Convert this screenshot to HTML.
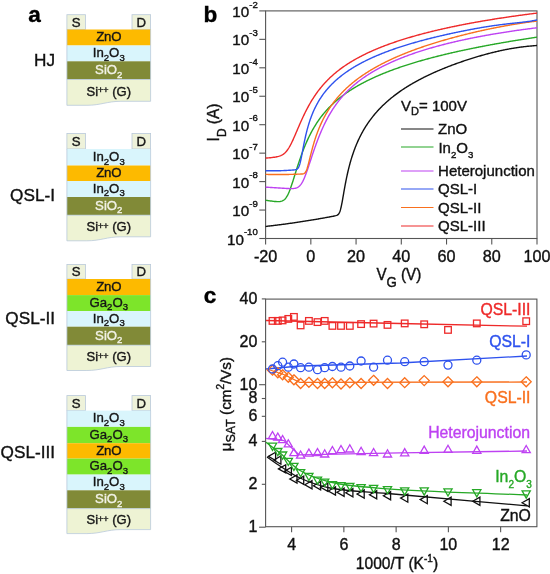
<!DOCTYPE html>
<html><head><meta charset="utf-8"><style>
html,body{margin:0;padding:0;background:#fff;}
svg{display:block;will-change:transform;filter:blur(0.35px);}
text{font-family:"Liberation Sans", sans-serif;}
.tk{stroke:currentColor;stroke-width:0.25px;}
</style></head><body>
<svg width="550" height="574" viewBox="0 0 550 574">
<rect width="550" height="574" fill="#fff"/>
<rect x="66.9" y="14.7" width="18.6" height="14.8" fill="#EEF2DA" stroke="#B9C9DA" stroke-width="0.8"/>
<rect x="132.0" y="14.7" width="18.6" height="14.8" fill="#EEF2DA" stroke="#B9C9DA" stroke-width="0.8"/>
<text x="76.2" y="26.5" font-size="13.2" fill="#161616" text-anchor="middle" stroke="#161616" stroke-width="0.38">S</text>
<text x="141.29999999999998" y="26.5" font-size="13.2" fill="#161616" text-anchor="middle" stroke="#161616" stroke-width="0.38">D</text>
<rect x="66.9" y="29.5" width="83.69999999999999" height="16.0" fill="#FDBA00"/>
<text x="108.75" y="41.2" font-size="13.2" fill="#161616" text-anchor="middle" letter-spacing="-0.15" stroke="#161616" stroke-width="0.38">ZnO</text>
<rect x="66.9" y="45.5" width="83.69999999999999" height="15.799999999999997" fill="#D9F5FC"/>
<text x="108.75" y="57.1" font-size="13.2" fill="#161616" text-anchor="middle" stroke="#161616" stroke-width="0.38">In<tspan font-size="9.5" dy="3.6">2</tspan><tspan dy="-3.6">O</tspan><tspan font-size="9.5" dy="3.6">3</tspan></text>
<rect x="66.9" y="61.3" width="83.69999999999999" height="18.200000000000003" fill="#818A37"/>
<text x="108.75" y="74.10000000000001" font-size="13.2" fill="#F2F2E6" text-anchor="middle" stroke="#F2F2E6" stroke-width="0.38">SiO<tspan font-size="9.5" dy="3.6">2</tspan></text>
<path d="M66.9,79.5 L150.6,79.5 L150.6,101.3 L120.9,101.3 C106.9,101.3 100.9,105.3 86.9,105.3 L66.9,105.3 Z" fill="#EEF3D4" stroke="#B9C9DA" stroke-width="0.8"/>
<text x="108.75" y="95.50000000000001" font-size="13" fill="#161616" text-anchor="middle" stroke="#161616" stroke-width="0.38">Si<tspan font-size="9" dy="-2.2">++</tspan><tspan dy="2.2"> (G)</tspan></text>
<line x1="66.9" y1="29.5" x2="66.9" y2="79.5" stroke="#B9C9DA" stroke-width="0.8"/>
<line x1="150.6" y1="29.5" x2="150.6" y2="79.5" stroke="#B9C9DA" stroke-width="0.8"/>
<text x="55.0" y="66.0" font-size="17.2" fill="#111" text-anchor="end" stroke="#111" stroke-width="0.38">HJ</text>
<rect x="66.9" y="133.5" width="18.6" height="15.5" fill="#EEF2DA" stroke="#B9C9DA" stroke-width="0.8"/>
<rect x="132.0" y="133.5" width="18.6" height="15.5" fill="#EEF2DA" stroke="#B9C9DA" stroke-width="0.8"/>
<text x="76.2" y="146.0" font-size="13.2" fill="#161616" text-anchor="middle" stroke="#161616" stroke-width="0.38">S</text>
<text x="141.29999999999998" y="146.0" font-size="13.2" fill="#161616" text-anchor="middle" stroke="#161616" stroke-width="0.38">D</text>
<rect x="66.9" y="149" width="83.69999999999999" height="16.5" fill="#D9F5FC"/>
<text x="108.75" y="160.95" font-size="13.2" fill="#161616" text-anchor="middle" stroke="#161616" stroke-width="0.38">In<tspan font-size="9.5" dy="3.6">2</tspan><tspan dy="-3.6">O</tspan><tspan font-size="9.5" dy="3.6">3</tspan></text>
<rect x="66.9" y="165.5" width="83.69999999999999" height="15.5" fill="#FDBA00"/>
<text x="108.75" y="176.95" font-size="13.2" fill="#161616" text-anchor="middle" letter-spacing="-0.15" stroke="#161616" stroke-width="0.38">ZnO</text>
<rect x="66.9" y="181.0" width="83.69999999999999" height="16.0" fill="#D9F5FC"/>
<text x="108.75" y="192.7" font-size="13.2" fill="#161616" text-anchor="middle" stroke="#161616" stroke-width="0.38">In<tspan font-size="9.5" dy="3.6">2</tspan><tspan dy="-3.6">O</tspan><tspan font-size="9.5" dy="3.6">3</tspan></text>
<rect x="66.9" y="197.0" width="83.69999999999999" height="18.19999999999999" fill="#818A37"/>
<text x="108.75" y="209.79999999999998" font-size="13.2" fill="#F2F2E6" text-anchor="middle" stroke="#F2F2E6" stroke-width="0.38">SiO<tspan font-size="9.5" dy="3.6">2</tspan></text>
<path d="M66.9,215.2 L150.6,215.2 L150.6,236.79999999999998 L120.9,236.79999999999998 C106.9,236.79999999999998 100.9,240.79999999999998 86.9,240.79999999999998 L66.9,240.79999999999998 Z" fill="#EEF3D4" stroke="#B9C9DA" stroke-width="0.8"/>
<text x="108.75" y="231.1" font-size="13" fill="#161616" text-anchor="middle" stroke="#161616" stroke-width="0.38">Si<tspan font-size="9" dy="-2.2">++</tspan><tspan dy="2.2"> (G)</tspan></text>
<line x1="66.9" y1="149" x2="66.9" y2="215.2" stroke="#B9C9DA" stroke-width="0.8"/>
<line x1="150.6" y1="149" x2="150.6" y2="215.2" stroke="#B9C9DA" stroke-width="0.8"/>
<text x="55.0" y="201.20000000000002" font-size="17.2" fill="#111" text-anchor="end" stroke="#111" stroke-width="0.38">QSL-I</text>
<rect x="66.9" y="264.4" width="18.6" height="14.600000000000023" fill="#EEF2DA" stroke="#B9C9DA" stroke-width="0.8"/>
<rect x="132.0" y="264.4" width="18.6" height="14.600000000000023" fill="#EEF2DA" stroke="#B9C9DA" stroke-width="0.8"/>
<text x="76.2" y="276.0" font-size="13.2" fill="#161616" text-anchor="middle" stroke="#161616" stroke-width="0.38">S</text>
<text x="141.29999999999998" y="276.0" font-size="13.2" fill="#161616" text-anchor="middle" stroke="#161616" stroke-width="0.38">D</text>
<rect x="66.9" y="279" width="83.69999999999999" height="16.100000000000023" fill="#FDBA00"/>
<text x="108.75" y="290.75" font-size="13.2" fill="#161616" text-anchor="middle" letter-spacing="-0.15" stroke="#161616" stroke-width="0.38">ZnO</text>
<rect x="66.9" y="295.1" width="83.69999999999999" height="16.0" fill="#7DE52A"/>
<text x="108.75" y="306.8" font-size="13.2" fill="#161616" text-anchor="middle" stroke="#161616" stroke-width="0.38">Ga<tspan font-size="9.5" dy="3.6">2</tspan><tspan dy="-3.6">O</tspan><tspan font-size="9.5" dy="3.6">3</tspan></text>
<rect x="66.9" y="311.1" width="83.69999999999999" height="15.600000000000023" fill="#D9F5FC"/>
<text x="108.75" y="322.6" font-size="13.2" fill="#161616" text-anchor="middle" stroke="#161616" stroke-width="0.38">In<tspan font-size="9.5" dy="3.6">2</tspan><tspan dy="-3.6">O</tspan><tspan font-size="9.5" dy="3.6">3</tspan></text>
<rect x="66.9" y="326.70000000000005" width="83.69999999999999" height="18.5" fill="#818A37"/>
<text x="108.75" y="339.65000000000003" font-size="13.2" fill="#F2F2E6" text-anchor="middle" stroke="#F2F2E6" stroke-width="0.38">SiO<tspan font-size="9.5" dy="3.6">2</tspan></text>
<path d="M66.9,345.20000000000005 L150.6,345.20000000000005 L150.6,366.50000000000006 L120.9,366.50000000000006 C106.9,366.50000000000006 100.9,370.50000000000006 86.9,370.50000000000006 L66.9,370.50000000000006 Z" fill="#EEF3D4" stroke="#B9C9DA" stroke-width="0.8"/>
<text x="108.75" y="360.95" font-size="13" fill="#161616" text-anchor="middle" stroke="#161616" stroke-width="0.38">Si<tspan font-size="9" dy="-2.2">++</tspan><tspan dy="2.2"> (G)</tspan></text>
<line x1="66.9" y1="279" x2="66.9" y2="345.20000000000005" stroke="#B9C9DA" stroke-width="0.8"/>
<line x1="150.6" y1="279" x2="150.6" y2="345.20000000000005" stroke="#B9C9DA" stroke-width="0.8"/>
<text x="55.0" y="323.90000000000003" font-size="17.2" fill="#111" text-anchor="end" stroke="#111" stroke-width="0.38">QSL-II</text>
<rect x="66.9" y="395.6" width="18.6" height="15.0" fill="#EEF2DA" stroke="#B9C9DA" stroke-width="0.8"/>
<rect x="132.0" y="395.6" width="18.6" height="15.0" fill="#EEF2DA" stroke="#B9C9DA" stroke-width="0.8"/>
<text x="76.2" y="407.6" font-size="13.2" fill="#161616" text-anchor="middle" stroke="#161616" stroke-width="0.38">S</text>
<text x="141.29999999999998" y="407.6" font-size="13.2" fill="#161616" text-anchor="middle" stroke="#161616" stroke-width="0.38">D</text>
<rect x="66.9" y="410.6" width="83.69999999999999" height="16.30000000000001" fill="#D9F5FC"/>
<text x="108.75" y="422.45" font-size="13.2" fill="#161616" text-anchor="middle" stroke="#161616" stroke-width="0.38">In<tspan font-size="9.5" dy="3.6">2</tspan><tspan dy="-3.6">O</tspan><tspan font-size="9.5" dy="3.6">3</tspan></text>
<rect x="66.9" y="426.90000000000003" width="83.69999999999999" height="16.30000000000001" fill="#7DE52A"/>
<text x="108.75" y="438.75000000000006" font-size="13.2" fill="#161616" text-anchor="middle" stroke="#161616" stroke-width="0.38">Ga<tspan font-size="9.5" dy="3.6">2</tspan><tspan dy="-3.6">O</tspan><tspan font-size="9.5" dy="3.6">3</tspan></text>
<rect x="66.9" y="443.20000000000005" width="83.69999999999999" height="15.399999999999977" fill="#FDBA00"/>
<text x="108.75" y="454.6" font-size="13.2" fill="#161616" text-anchor="middle" letter-spacing="-0.15" stroke="#161616" stroke-width="0.38">ZnO</text>
<rect x="66.9" y="458.6" width="83.69999999999999" height="16.0" fill="#7DE52A"/>
<text x="108.75" y="470.3" font-size="13.2" fill="#161616" text-anchor="middle" stroke="#161616" stroke-width="0.38">Ga<tspan font-size="9.5" dy="3.6">2</tspan><tspan dy="-3.6">O</tspan><tspan font-size="9.5" dy="3.6">3</tspan></text>
<rect x="66.9" y="474.6" width="83.69999999999999" height="15.699999999999989" fill="#D9F5FC"/>
<text x="108.75" y="486.15000000000003" font-size="13.2" fill="#161616" text-anchor="middle" stroke="#161616" stroke-width="0.38">In<tspan font-size="9.5" dy="3.6">2</tspan><tspan dy="-3.6">O</tspan><tspan font-size="9.5" dy="3.6">3</tspan></text>
<rect x="66.9" y="490.3" width="83.69999999999999" height="18.30000000000001" fill="#818A37"/>
<text x="108.75" y="503.15000000000003" font-size="13.2" fill="#F2F2E6" text-anchor="middle" stroke="#F2F2E6" stroke-width="0.38">SiO<tspan font-size="9.5" dy="3.6">2</tspan></text>
<path d="M66.9,508.6 L150.6,508.6 L150.6,529.6 L120.9,529.6 C106.9,529.6 100.9,533.6 86.9,533.6 L66.9,533.6 Z" fill="#EEF3D4" stroke="#B9C9DA" stroke-width="0.8"/>
<text x="108.75" y="524.2" font-size="13" fill="#161616" text-anchor="middle" stroke="#161616" stroke-width="0.38">Si<tspan font-size="9" dy="-2.2">++</tspan><tspan dy="2.2"> (G)</tspan></text>
<line x1="66.9" y1="410.6" x2="66.9" y2="508.6" stroke="#B9C9DA" stroke-width="0.8"/>
<line x1="150.6" y1="410.6" x2="150.6" y2="508.6" stroke="#B9C9DA" stroke-width="0.8"/>
<text x="55.0" y="458.40000000000003" font-size="17.2" fill="#111" text-anchor="end" stroke="#111" stroke-width="0.38">QSL-III</text>
<text x="28.3" y="22" font-size="22.5" font-weight="bold" fill="#000" stroke="#000" stroke-width="0.38">a</text>
<text x="203.6" y="21.9" font-size="22.5" font-weight="bold" fill="#000" stroke="#000" stroke-width="0.38">b</text>
<text x="203.8" y="302.8" font-size="22.5" font-weight="bold" fill="#000" stroke="#000" stroke-width="0.38">c</text>
<rect x="265.6" y="10.9" width="271.4" height="227.6" fill="none" stroke="#555" stroke-width="1.1"/>
<line x1="259.3" y1="10.9" x2="265.6" y2="10.9" stroke="#555" stroke-width="1.1"/>
<text x="257.8" y="16.9" font-size="15.2" fill="#111" text-anchor="end" stroke="#111" stroke-width="0.38">10<tspan font-size="9.6" dy="-9.3">-2</tspan></text>
<line x1="259.3" y1="39.35" x2="265.6" y2="39.35" stroke="#555" stroke-width="1.1"/>
<text x="257.8" y="45.35" font-size="15.2" fill="#111" text-anchor="end" stroke="#111" stroke-width="0.38">10<tspan font-size="9.6" dy="-9.3">-3</tspan></text>
<line x1="259.3" y1="67.8" x2="265.6" y2="67.8" stroke="#555" stroke-width="1.1"/>
<text x="257.8" y="73.8" font-size="15.2" fill="#111" text-anchor="end" stroke="#111" stroke-width="0.38">10<tspan font-size="9.6" dy="-9.3">-4</tspan></text>
<line x1="259.3" y1="96.25" x2="265.6" y2="96.25" stroke="#555" stroke-width="1.1"/>
<text x="257.8" y="102.25" font-size="15.2" fill="#111" text-anchor="end" stroke="#111" stroke-width="0.38">10<tspan font-size="9.6" dy="-9.3">-5</tspan></text>
<line x1="259.3" y1="124.7" x2="265.6" y2="124.7" stroke="#555" stroke-width="1.1"/>
<text x="257.8" y="130.7" font-size="15.2" fill="#111" text-anchor="end" stroke="#111" stroke-width="0.38">10<tspan font-size="9.6" dy="-9.3">-6</tspan></text>
<line x1="259.3" y1="153.15" x2="265.6" y2="153.15" stroke="#555" stroke-width="1.1"/>
<text x="257.8" y="159.15" font-size="15.2" fill="#111" text-anchor="end" stroke="#111" stroke-width="0.38">10<tspan font-size="9.6" dy="-9.3">-7</tspan></text>
<line x1="259.3" y1="181.6" x2="265.6" y2="181.6" stroke="#555" stroke-width="1.1"/>
<text x="257.8" y="187.6" font-size="15.2" fill="#111" text-anchor="end" stroke="#111" stroke-width="0.38">10<tspan font-size="9.6" dy="-9.3">-8</tspan></text>
<line x1="259.3" y1="210.05" x2="265.6" y2="210.05" stroke="#555" stroke-width="1.1"/>
<text x="257.8" y="216.05" font-size="15.2" fill="#111" text-anchor="end" stroke="#111" stroke-width="0.38">10<tspan font-size="9.6" dy="-9.3">-9</tspan></text>
<line x1="259.3" y1="238.5" x2="265.6" y2="238.5" stroke="#555" stroke-width="1.1"/>
<text x="257.8" y="244.5" font-size="15.2" fill="#111" text-anchor="end" stroke="#111" stroke-width="0.38">10<tspan font-size="9.6" dy="-9.3">-10</tspan></text>
<line x1="265.6" y1="238.5" x2="265.6" y2="244.5" stroke="#555" stroke-width="1.1"/>
<text x="265.6" y="261.6" font-size="16.2" fill="#111" text-anchor="middle" stroke="#111" stroke-width="0.38">-20</text>
<line x1="310.834" y1="238.5" x2="310.834" y2="244.5" stroke="#555" stroke-width="1.1"/>
<text x="310.834" y="261.6" font-size="16.2" fill="#111" text-anchor="middle" stroke="#111" stroke-width="0.38">0</text>
<line x1="356.068" y1="238.5" x2="356.068" y2="244.5" stroke="#555" stroke-width="1.1"/>
<text x="356.068" y="261.6" font-size="16.2" fill="#111" text-anchor="middle" stroke="#111" stroke-width="0.38">20</text>
<line x1="401.302" y1="238.5" x2="401.302" y2="244.5" stroke="#555" stroke-width="1.1"/>
<text x="401.302" y="261.6" font-size="16.2" fill="#111" text-anchor="middle" stroke="#111" stroke-width="0.38">40</text>
<line x1="446.536" y1="238.5" x2="446.536" y2="244.5" stroke="#555" stroke-width="1.1"/>
<text x="446.536" y="261.6" font-size="16.2" fill="#111" text-anchor="middle" stroke="#111" stroke-width="0.38">60</text>
<line x1="491.77" y1="238.5" x2="491.77" y2="244.5" stroke="#555" stroke-width="1.1"/>
<text x="491.77" y="261.6" font-size="16.2" fill="#111" text-anchor="middle" stroke="#111" stroke-width="0.38">80</text>
<line x1="537.004" y1="238.5" x2="537.004" y2="244.5" stroke="#555" stroke-width="1.1"/>
<text x="537.004" y="261.6" font-size="16.2" fill="#111" text-anchor="middle" stroke="#111" stroke-width="0.38">100</text>
<text transform="translate(376.4,279.6) scale(0.98,1.12)" font-size="15.5" fill="#111" stroke="#111" stroke-width="0.38">V<tspan font-size="13.5" dy="6.2">G</tspan><tspan dy="-6.2"> (V)</tspan></text>
<text transform="translate(218.8,141.4) rotate(-90) scale(1,1.12)" font-size="15.5" fill="#111" stroke="#111" stroke-width="0.38">I<tspan font-size="11.8" dy="6.0">D</tspan><tspan dy="-6.0"> (A)</tspan></text>
<defs><clipPath id="cb"><rect x="265.6" y="10.9" width="271.4" height="227.6"/></clipPath></defs>
<g clip-path="url(#cb)" fill="none" stroke-width="1.4">
<path d="M264.92,226.52 L265.72,226.43 L266.52,226.34 L267.31,226.25 L268.11,226.16 L268.90,226.07 L269.70,225.97 L270.49,225.88 L271.29,225.79 L272.09,225.69 L272.88,225.60 L273.68,225.50 L274.47,225.40 L275.27,225.31 L276.06,225.21 L276.86,225.11 L277.65,225.01 L278.45,224.91 L279.25,224.81 L280.04,224.71 L280.84,224.60 L281.63,224.50 L282.43,224.40 L283.22,224.29 L284.02,224.19 L284.82,224.08 L285.61,223.97 L286.41,223.86 L287.20,223.76 L288.00,223.65 L288.79,223.54 L289.59,223.42 L290.39,223.31 L291.18,223.20 L291.98,223.09 L292.77,222.97 L293.57,222.86 L294.36,222.74 L295.16,222.63 L295.95,222.51 L296.75,222.39 L297.55,222.28 L298.34,222.16 L299.14,222.04 L299.93,221.92 L300.73,221.80 L301.52,221.67 L302.32,221.55 L303.12,221.43 L303.91,221.30 L304.71,221.18 L305.50,221.05 L306.30,220.93 L307.09,220.80 L307.89,220.67 L308.69,220.54 L309.48,220.41 L310.28,220.28 L311.07,220.15 L311.87,220.02 L312.66,219.89 L313.46,219.76 L314.25,219.62 L315.05,219.49 L315.85,219.35 L316.64,219.22 L317.44,219.08 L318.23,218.94 L319.03,218.80 L319.82,218.67 L320.62,218.53 L321.42,218.39 L322.21,218.24 L323.01,218.10 L323.80,217.96 L324.60,217.82 L325.39,217.67 L326.19,217.53 L326.99,217.38 L327.78,217.24 L328.58,217.09 L329.37,216.94 L330.17,216.79 L330.96,216.64 L331.76,216.49 L332.55,216.34 L333.35,216.19 L334.15,216.03 L334.94,215.87 L335.74,215.68 L336.53,215.45 L337.33,215.12 L338.01,214.66 L338.58,214.07 L339.03,213.41 L339.49,212.52 L339.83,211.68 L340.17,210.68 L340.40,209.92 L340.62,209.09 L340.85,208.19 L341.08,207.22 L341.31,206.19 L341.53,205.10 L341.76,203.95 L341.99,202.77 L342.22,201.54 L342.44,200.29 L342.67,199.01 L342.90,197.72 L343.13,196.41 L343.35,195.10 L343.58,193.79 L343.81,192.49 L344.03,191.19 L344.26,189.90 L344.49,188.63 L344.72,187.37 L344.94,186.12 L345.17,184.90 L345.40,183.69 L345.63,182.50 L345.85,181.33 L346.08,180.19 L346.31,179.06 L346.54,177.95 L346.76,176.87 L346.99,175.80 L347.22,174.76 L347.44,173.73 L347.67,172.72 L347.90,171.74 L348.13,170.77 L348.35,169.82 L348.58,168.88 L348.81,167.96 L349.04,167.06 L349.26,166.18 L349.49,165.31 L349.72,164.46 L349.95,163.62 L350.17,162.80 L350.40,161.99 L350.63,161.19 L350.85,160.41 L351.08,159.64 L351.31,158.89 L351.54,158.14 L351.88,157.05 L352.22,155.98 L352.56,154.93 L352.90,153.91 L353.24,152.91 L353.58,151.94 L353.92,150.98 L354.26,150.05 L354.61,149.13 L354.95,148.23 L355.29,147.35 L355.63,146.49 L355.97,145.64 L356.31,144.81 L356.65,144.00 L356.99,143.20 L357.33,142.41 L357.67,141.64 L358.02,140.88 L358.36,140.13 L358.70,139.40 L359.04,138.68 L359.38,137.97 L359.72,137.27 L360.18,136.36 L360.63,135.46 L361.08,134.59 L361.54,133.73 L361.99,132.88 L362.45,132.06 L362.90,131.24 L363.36,130.45 L363.81,129.67 L364.27,128.90 L364.72,128.14 L365.18,127.40 L365.63,126.67 L366.09,125.96 L366.54,125.25 L367.00,124.56 L367.45,123.87 L367.90,123.20 L368.36,122.54 L368.81,121.89 L369.27,121.25 L369.72,120.61 L370.29,119.84 L370.86,119.07 L371.43,118.32 L372.00,117.58 L372.56,116.86 L373.13,116.15 L373.70,115.44 L374.27,114.75 L374.84,114.07 L375.41,113.41 L375.97,112.75 L376.54,112.10 L377.11,111.46 L377.68,110.83 L378.25,110.21 L378.82,109.60 L379.38,109.00 L379.95,108.40 L380.52,107.82 L381.09,107.24 L381.66,106.67 L382.23,106.10 L382.79,105.55 L383.36,105.00 L383.93,104.46 L384.50,103.92 L385.07,103.40 L385.75,102.77 L386.43,102.15 L387.11,101.55 L387.80,100.95 L388.48,100.36 L389.16,99.77 L389.84,99.20 L390.52,98.63 L391.21,98.07 L391.89,97.52 L392.57,96.97 L393.25,96.44 L393.93,95.90 L394.62,95.38 L395.30,94.86 L395.98,94.35 L396.66,93.84 L397.34,93.34 L398.03,92.84 L398.71,92.36 L399.39,91.87 L400.07,91.39 L400.75,90.92 L401.44,90.45 L402.12,89.99 L402.80,89.53 L403.48,89.08 L404.16,88.63 L404.85,88.19 L405.53,87.75 L406.21,87.32 L406.89,86.89 L407.57,86.46 L408.26,86.04 L408.94,85.62 L409.62,85.21 L410.30,84.80 L410.98,84.39 L411.67,83.99 L412.35,83.59 L413.03,83.20 L413.71,82.81 L414.39,82.42 L415.08,82.04 L415.76,81.66 L416.44,81.28 L417.12,80.91 L417.80,80.54 L418.60,80.11 L419.39,79.69 L420.19,79.27 L420.99,78.85 L421.78,78.44 L422.58,78.03 L423.37,77.63 L424.17,77.23 L424.96,76.84 L425.76,76.44 L426.56,76.05 L427.35,75.67 L428.15,75.29 L428.94,74.91 L429.74,74.53 L430.53,74.16 L431.33,73.79 L432.12,73.43 L432.92,73.07 L433.72,72.71 L434.51,72.35 L435.31,72.00 L436.10,71.65 L436.90,71.30 L437.69,70.96 L438.49,70.61 L439.29,70.28 L440.08,69.94 L440.88,69.61 L441.67,69.28 L442.47,68.95 L443.26,68.62 L444.06,68.30 L444.86,67.98 L445.65,67.66 L446.45,67.34 L447.24,67.03 L448.04,66.72 L448.83,66.41 L449.63,66.10 L450.42,65.80 L451.22,65.50 L452.02,65.20 L452.81,64.90 L453.61,64.60 L454.40,64.31 L455.20,64.02 L455.99,63.73 L456.79,63.44 L457.59,63.16 L458.38,62.87 L459.18,62.59 L459.97,62.31 L460.77,62.04 L461.56,61.76 L462.36,61.49 L463.16,61.22 L463.95,60.95 L464.75,60.68 L465.54,60.42 L466.34,60.15 L467.13,59.89 L467.93,59.63 L468.72,59.38 L469.52,59.12 L470.32,58.87 L471.11,58.61 L471.91,58.36 L472.70,58.11 L473.50,57.87 L474.29,57.62 L475.09,57.38 L475.89,57.14 L476.68,56.90 L477.48,56.66 L478.27,56.43 L479.07,56.20 L479.86,55.96 L480.66,55.74 L481.46,55.51 L482.25,55.28 L483.05,55.06 L483.84,54.84 L484.64,54.62 L485.43,54.40 L486.23,54.18 L487.02,53.97 L487.82,53.76 L488.62,53.55 L489.41,53.34 L490.21,53.14 L491.00,52.93 L491.80,52.73 L492.59,52.53 L493.39,52.34 L494.19,52.14 L494.98,51.95 L495.78,51.76 L496.57,51.58 L497.37,51.39 L498.16,51.21 L498.96,51.03 L499.76,50.85 L500.55,50.68 L501.35,50.50 L502.14,50.33 L502.94,50.17 L503.73,50.00 L504.53,49.84 L505.32,49.68 L506.12,49.52 L506.92,49.37 L507.71,49.22 L508.51,49.07 L509.30,48.92 L510.10,48.78 L510.89,48.64 L511.69,48.50 L512.49,48.36 L513.28,48.23 L514.08,48.10 L514.87,47.97 L515.67,47.85 L516.46,47.73 L517.26,47.61 L518.06,47.49 L518.85,47.38 L519.65,47.27 L520.44,47.16 L521.24,47.06 L522.03,46.96 L522.83,46.86 L523.62,46.76 L524.42,46.67 L525.22,46.57 L526.01,46.48 L526.81,46.40 L527.60,46.31 L528.40,46.23 L529.19,46.15 L529.99,46.08 L530.79,46.00 L531.58,45.93 L532.38,45.86 L533.17,45.79 L533.97,45.73 L534.76,45.66 L535.56,45.60 L536.36,45.54 L537.15,45.48 L537.61,45.45" stroke="#111" stroke-linejoin="round"/>
<path d="M264.92,200.12 L265.72,200.24 L266.52,200.37 L267.31,200.49 L268.11,200.61 L268.90,200.73 L269.70,200.84 L270.49,200.95 L271.29,201.06 L272.09,201.16 L272.88,201.26 L273.68,201.35 L274.47,201.43 L275.27,201.50 L276.06,201.56 L276.86,201.61 L277.65,201.63 L278.45,201.64 L279.25,201.60 L280.04,201.53 L280.84,201.39 L281.63,201.19 L282.43,200.90 L283.22,200.49 L283.91,200.03 L284.59,199.46 L285.16,198.89 L285.73,198.21 L286.29,197.43 L286.75,196.73 L287.20,195.95 L287.66,195.10 L288.11,194.18 L288.45,193.45 L288.79,192.67 L289.14,191.86 L289.48,191.02 L289.82,190.14 L290.16,189.23 L290.50,188.30 L290.84,187.34 L291.18,186.35 L291.52,185.35 L291.86,184.32 L292.20,183.28 L292.54,182.23 L292.89,181.16 L293.23,180.09 L293.57,179.00 L293.91,177.92 L294.25,176.82 L294.59,175.73 L294.93,174.64 L295.27,173.54 L295.61,172.45 L295.95,171.37 L296.30,170.28 L296.64,169.20 L296.98,168.13 L297.32,167.07 L297.66,166.01 L298.00,164.96 L298.34,163.92 L298.68,162.89 L299.02,161.86 L299.36,160.85 L299.71,159.85 L300.05,158.86 L300.39,157.88 L300.73,156.91 L301.07,155.95 L301.41,155.00 L301.75,154.06 L302.09,153.14 L302.43,152.22 L302.77,151.32 L303.12,150.43 L303.46,149.55 L303.80,148.68 L304.14,147.82 L304.48,146.98 L304.82,146.14 L305.16,145.32 L305.50,144.51 L305.84,143.71 L306.18,142.92 L306.53,142.14 L306.87,141.37 L307.21,140.61 L307.55,139.86 L307.89,139.12 L308.23,138.39 L308.57,137.67 L308.91,136.96 L309.25,136.27 L309.71,135.35 L310.16,134.45 L310.62,133.56 L311.07,132.69 L311.53,131.84 L311.98,131.00 L312.44,130.18 L312.89,129.37 L313.35,128.57 L313.80,127.79 L314.25,127.02 L314.71,126.27 L315.16,125.53 L315.62,124.80 L316.07,124.08 L316.53,123.37 L316.98,122.68 L317.44,121.99 L317.89,121.32 L318.35,120.66 L318.80,120.01 L319.26,119.37 L319.71,118.74 L320.28,117.96 L320.85,117.20 L321.42,116.45 L321.98,115.72 L322.55,115.00 L323.12,114.29 L323.69,113.60 L324.26,112.92 L324.83,112.25 L325.39,111.59 L325.96,110.94 L326.53,110.30 L327.10,109.68 L327.67,109.06 L328.24,108.45 L328.80,107.85 L329.37,107.27 L329.94,106.69 L330.51,106.12 L331.08,105.56 L331.65,105.00 L332.21,104.46 L332.78,103.92 L333.35,103.39 L334.03,102.76 L334.71,102.15 L335.40,101.54 L336.08,100.95 L336.76,100.36 L337.44,99.78 L338.12,99.22 L338.81,98.66 L339.49,98.11 L340.17,97.56 L340.85,97.03 L341.53,96.50 L342.22,95.98 L342.90,95.47 L343.58,94.96 L344.26,94.46 L344.94,93.97 L345.63,93.49 L346.31,93.01 L346.99,92.54 L347.67,92.07 L348.35,91.61 L349.04,91.15 L349.72,90.70 L350.40,90.26 L351.08,89.82 L351.76,89.39 L352.45,88.96 L353.13,88.54 L353.81,88.12 L354.49,87.70 L355.17,87.30 L355.86,86.89 L356.54,86.49 L357.22,86.10 L357.90,85.70 L358.58,85.32 L359.27,84.93 L359.95,84.56 L360.63,84.18 L361.31,83.81 L361.99,83.44 L362.79,83.02 L363.59,82.60 L364.38,82.18 L365.18,81.77 L365.97,81.37 L366.77,80.97 L367.56,80.57 L368.36,80.18 L369.15,79.79 L369.95,79.41 L370.75,79.03 L371.54,78.65 L372.34,78.28 L373.13,77.91 L373.93,77.55 L374.72,77.19 L375.52,76.83 L376.32,76.48 L377.11,76.13 L377.91,75.78 L378.70,75.44 L379.50,75.10 L380.29,74.76 L381.09,74.42 L381.89,74.09 L382.68,73.77 L383.48,73.44 L384.27,73.12 L385.07,72.80 L385.86,72.48 L386.66,72.17 L387.45,71.86 L388.25,71.55 L389.05,71.24 L389.84,70.94 L390.64,70.64 L391.43,70.34 L392.23,70.04 L393.02,69.75 L393.82,69.46 L394.62,69.17 L395.41,68.88 L396.21,68.60 L397.00,68.32 L397.80,68.04 L398.59,67.76 L399.39,67.48 L400.19,67.21 L400.98,66.94 L401.78,66.67 L402.57,66.40 L403.37,66.14 L404.16,65.87 L404.96,65.61 L405.75,65.35 L406.55,65.09 L407.35,64.84 L408.14,64.58 L408.94,64.33 L409.73,64.08 L410.53,63.83 L411.32,63.58 L412.12,63.34 L412.92,63.09 L413.71,62.85 L414.51,62.61 L415.30,62.37 L416.10,62.13 L416.89,61.90 L417.69,61.66 L418.49,61.43 L419.28,61.20 L420.08,60.97 L420.87,60.74 L421.67,60.51 L422.46,60.29 L423.26,60.06 L424.05,59.84 L424.85,59.62 L425.65,59.40 L426.44,59.18 L427.24,58.96 L428.03,58.74 L428.83,58.53 L429.62,58.32 L430.42,58.10 L431.22,57.89 L432.01,57.68 L432.81,57.47 L433.60,57.27 L434.40,57.06 L435.19,56.85 L435.99,56.65 L436.79,56.45 L437.58,56.25 L438.38,56.04 L439.17,55.85 L439.97,55.65 L440.76,55.45 L441.56,55.25 L442.35,55.06 L443.15,54.86 L443.95,54.67 L444.74,54.48 L445.54,54.29 L446.33,54.10 L447.13,53.91 L447.92,53.72 L448.72,53.53 L449.52,53.35 L450.31,53.16 L451.11,52.98 L451.90,52.79 L452.70,52.61 L453.49,52.43 L454.29,52.25 L455.09,52.07 L455.88,51.89 L456.68,51.71 L457.47,51.54 L458.27,51.36 L459.06,51.18 L459.86,51.01 L460.65,50.84 L461.45,50.66 L462.25,50.49 L463.04,50.32 L463.84,50.15 L464.63,49.98 L465.43,49.81 L466.22,49.64 L467.02,49.48 L467.82,49.31 L468.61,49.14 L469.41,48.98 L470.20,48.81 L471.00,48.65 L471.79,48.49 L472.59,48.33 L473.38,48.16 L474.18,48.00 L474.98,47.84 L475.77,47.69 L476.57,47.53 L477.36,47.37 L478.16,47.21 L478.95,47.06 L479.75,46.90 L480.55,46.75 L481.34,46.59 L482.14,46.44 L482.93,46.28 L483.73,46.13 L484.52,45.98 L485.32,45.83 L486.12,45.68 L486.91,45.53 L487.71,45.38 L488.50,45.23 L489.30,45.08 L490.09,44.93 L490.89,44.79 L491.68,44.64 L492.48,44.50 L493.28,44.35 L494.07,44.21 L494.87,44.06 L495.66,43.92 L496.46,43.78 L497.25,43.63 L498.05,43.49 L498.85,43.35 L499.64,43.21 L500.44,43.07 L501.23,42.93 L502.03,42.79 L502.82,42.65 L503.62,42.51 L504.42,42.38 L505.21,42.24 L506.01,42.10 L506.80,41.97 L507.60,41.83 L508.39,41.70 L509.19,41.56 L509.98,41.43 L510.78,41.29 L511.58,41.16 L512.37,41.03 L513.17,40.90 L513.96,40.76 L514.76,40.63 L515.55,40.50 L516.35,40.37 L517.15,40.24 L517.94,40.11 L518.74,39.98 L519.53,39.85 L520.33,39.72 L521.12,39.60 L521.92,39.47 L522.72,39.34 L523.51,39.21 L524.31,39.09 L525.10,38.96 L525.90,38.84 L526.69,38.71 L527.49,38.58 L528.28,38.46 L529.08,38.34 L529.88,38.21 L530.67,38.09 L531.47,37.96 L532.26,37.84 L533.06,37.72 L533.85,37.59 L534.65,37.47 L535.45,37.35 L536.24,37.23 L537.04,37.11 L537.61,37.02" stroke="#26A826" stroke-linejoin="round"/>
<path d="M264.92,187.15 L265.72,187.19 L266.52,187.24 L267.31,187.28 L268.11,187.32 L268.90,187.37 L269.70,187.41 L270.49,187.46 L271.29,187.51 L272.09,187.55 L272.88,187.60 L273.68,187.65 L274.47,187.70 L275.27,187.74 L276.06,187.79 L276.86,187.84 L277.65,187.89 L278.45,187.94 L279.25,188.00 L280.04,188.05 L280.84,188.10 L281.63,188.15 L282.43,188.20 L283.22,188.25 L284.02,188.30 L284.82,188.35 L285.61,188.40 L286.41,188.45 L287.20,188.50 L288.00,188.54 L288.79,188.57 L289.59,188.60 L290.39,188.62 L291.18,188.63 L291.98,188.62 L292.77,188.59 L293.57,188.53 L294.36,188.43 L295.16,188.29 L295.95,188.09 L296.75,187.81 L297.55,187.43 L298.23,187.03 L298.91,186.52 L299.59,185.91 L300.16,185.31 L300.73,184.62 L301.30,183.84 L301.75,183.14 L302.21,182.38 L302.66,181.56 L303.12,180.67 L303.46,179.97 L303.80,179.24 L304.14,178.47 L304.48,177.67 L304.82,176.84 L305.16,175.99 L305.50,175.11 L305.84,174.21 L306.18,173.29 L306.53,172.35 L306.87,171.39 L307.21,170.42 L307.55,169.43 L307.89,168.43 L308.23,167.42 L308.57,166.41 L308.91,165.39 L309.25,164.36 L309.59,163.33 L309.94,162.29 L310.28,161.26 L310.62,160.22 L310.96,159.19 L311.30,158.16 L311.64,157.13 L311.98,156.10 L312.32,155.08 L312.66,154.07 L313.00,153.06 L313.35,152.05 L313.69,151.05 L314.03,150.06 L314.37,149.08 L314.71,148.11 L315.05,147.14 L315.39,146.18 L315.73,145.23 L316.07,144.29 L316.41,143.36 L316.76,142.44 L317.10,141.52 L317.44,140.62 L317.78,139.72 L318.12,138.84 L318.46,137.96 L318.80,137.10 L319.14,136.24 L319.48,135.40 L319.82,134.56 L320.17,133.73 L320.51,132.92 L320.85,132.11 L321.19,131.31 L321.53,130.52 L321.87,129.74 L322.21,128.97 L322.55,128.21 L322.89,127.46 L323.23,126.72 L323.58,125.99 L323.92,125.26 L324.26,124.55 L324.60,123.84 L324.94,123.14 L325.39,122.23 L325.85,121.32 L326.30,120.44 L326.76,119.56 L327.21,118.71 L327.67,117.86 L328.12,117.03 L328.58,116.21 L329.03,115.41 L329.49,114.62 L329.94,113.84 L330.40,113.07 L330.85,112.31 L331.30,111.57 L331.76,110.84 L332.21,110.12 L332.67,109.41 L333.12,108.71 L333.58,108.03 L334.03,107.35 L334.49,106.68 L334.94,106.03 L335.40,105.38 L335.85,104.74 L336.31,104.11 L336.87,103.34 L337.44,102.58 L338.01,101.83 L338.58,101.10 L339.15,100.38 L339.72,99.67 L340.28,98.98 L340.85,98.29 L341.42,97.62 L341.99,96.96 L342.56,96.31 L343.13,95.66 L343.69,95.03 L344.26,94.41 L344.83,93.80 L345.40,93.20 L345.97,92.61 L346.54,92.02 L347.10,91.45 L347.67,90.88 L348.24,90.32 L348.81,89.77 L349.38,89.23 L349.95,88.69 L350.51,88.16 L351.20,87.54 L351.88,86.92 L352.56,86.32 L353.24,85.73 L353.92,85.14 L354.61,84.56 L355.29,84.00 L355.97,83.44 L356.65,82.88 L357.33,82.34 L358.02,81.81 L358.70,81.28 L359.38,80.76 L360.06,80.25 L360.74,79.74 L361.43,79.24 L362.11,78.75 L362.79,78.26 L363.47,77.78 L364.15,77.31 L364.84,76.84 L365.52,76.38 L366.20,75.92 L366.88,75.47 L367.56,75.03 L368.25,74.59 L368.93,74.16 L369.61,73.73 L370.29,73.31 L370.97,72.89 L371.66,72.47 L372.34,72.06 L373.02,71.66 L373.70,71.26 L374.38,70.86 L375.07,70.47 L375.75,70.09 L376.43,69.70 L377.11,69.32 L377.79,68.95 L378.48,68.58 L379.27,68.15 L380.07,67.73 L380.86,67.31 L381.66,66.90 L382.45,66.49 L383.25,66.09 L384.04,65.69 L384.84,65.30 L385.64,64.91 L386.43,64.52 L387.23,64.14 L388.02,63.76 L388.82,63.39 L389.61,63.02 L390.41,62.66 L391.21,62.30 L392.00,61.94 L392.80,61.59 L393.59,61.24 L394.39,60.89 L395.18,60.55 L395.98,60.21 L396.78,59.87 L397.57,59.54 L398.37,59.21 L399.16,58.88 L399.96,58.56 L400.75,58.24 L401.55,57.92 L402.34,57.61 L403.14,57.30 L403.94,56.99 L404.73,56.69 L405.53,56.38 L406.32,56.08 L407.12,55.79 L407.91,55.49 L408.71,55.20 L409.51,54.91 L410.30,54.63 L411.10,54.34 L411.89,54.06 L412.69,53.78 L413.48,53.50 L414.28,53.23 L415.08,52.96 L415.87,52.69 L416.67,52.42 L417.46,52.16 L418.26,51.89 L419.05,51.63 L419.85,51.37 L420.64,51.12 L421.44,50.86 L422.24,50.61 L423.03,50.36 L423.83,50.11 L424.62,49.87 L425.42,49.62 L426.21,49.38 L427.01,49.14 L427.81,48.90 L428.60,48.67 L429.40,48.43 L430.19,48.20 L430.99,47.97 L431.78,47.74 L432.58,47.51 L433.38,47.28 L434.17,47.06 L434.97,46.84 L435.76,46.62 L436.56,46.40 L437.35,46.18 L438.15,45.96 L438.94,45.75 L439.74,45.54 L440.54,45.33 L441.33,45.12 L442.13,44.91 L442.92,44.70 L443.72,44.50 L444.51,44.29 L445.31,44.09 L446.11,43.89 L446.90,43.69 L447.70,43.49 L448.49,43.30 L449.29,43.10 L450.08,42.91 L450.88,42.71 L451.68,42.52 L452.47,42.33 L453.27,42.15 L454.06,41.96 L454.86,41.77 L455.65,41.59 L456.45,41.40 L457.24,41.22 L458.04,41.04 L458.84,40.86 L459.63,40.68 L460.43,40.51 L461.22,40.33 L462.02,40.16 L462.81,39.98 L463.61,39.81 L464.41,39.64 L465.20,39.47 L466.00,39.30 L466.79,39.13 L467.59,38.96 L468.38,38.80 L469.18,38.63 L469.98,38.47 L470.77,38.31 L471.57,38.15 L472.36,37.98 L473.16,37.83 L473.95,37.67 L474.75,37.51 L475.54,37.35 L476.34,37.20 L477.14,37.04 L477.93,36.89 L478.73,36.74 L479.52,36.59 L480.32,36.44 L481.11,36.29 L481.91,36.14 L482.71,35.99 L483.50,35.84 L484.30,35.70 L485.09,35.55 L485.89,35.41 L486.68,35.26 L487.48,35.12 L488.28,34.98 L489.07,34.84 L489.87,34.70 L490.66,34.56 L491.46,34.42 L492.25,34.29 L493.05,34.15 L493.84,34.02 L494.64,33.88 L495.44,33.75 L496.23,33.61 L497.03,33.48 L497.82,33.35 L498.62,33.22 L499.41,33.09 L500.21,32.96 L501.01,32.83 L501.80,32.71 L502.60,32.58 L503.39,32.45 L504.19,32.33 L504.98,32.20 L505.78,32.08 L506.57,31.96 L507.37,31.83 L508.17,31.71 L508.96,31.59 L509.76,31.47 L510.55,31.35 L511.35,31.23 L512.14,31.12 L512.94,31.00 L513.74,30.88 L514.53,30.77 L515.33,30.65 L516.12,30.54 L516.92,30.42 L517.71,30.31 L518.51,30.20 L519.31,30.08 L520.10,29.97 L520.90,29.86 L521.69,29.75 L522.49,29.64 L523.28,29.53 L524.08,29.43 L524.87,29.32 L525.67,29.21 L526.47,29.10 L527.26,29.00 L528.06,28.89 L528.85,28.79 L529.65,28.69 L530.44,28.58 L531.24,28.48 L532.04,28.38 L532.83,28.28 L533.63,28.18 L534.42,28.07 L535.22,27.97 L536.01,27.88 L536.81,27.78 L537.61,27.68 L537.61,27.68" stroke="#BE42F2" stroke-linejoin="round"/>
<path d="M264.92,174.36 L265.72,174.38 L266.52,174.40 L267.31,174.42 L268.11,174.44 L268.90,174.45 L269.70,174.47 L270.49,174.48 L271.29,174.49 L272.09,174.51 L272.88,174.51 L273.68,174.52 L274.47,174.53 L275.27,174.54 L276.06,174.54 L276.86,174.54 L277.65,174.54 L278.45,174.55 L279.25,174.54 L280.04,174.54 L280.84,174.54 L281.63,174.53 L282.43,174.53 L283.22,174.52 L284.02,174.51 L284.82,174.50 L285.61,174.49 L286.41,174.48 L287.20,174.47 L288.00,174.45 L288.79,174.44 L289.59,174.42 L290.39,174.40 L291.18,174.38 L291.98,174.36 L292.77,174.34 L293.57,174.31 L294.36,174.29 L295.16,174.26 L295.95,174.23 L296.75,174.20 L297.55,174.17 L298.34,174.14 L299.14,174.11 L299.93,174.08 L300.73,174.04 L301.52,174.00 L302.32,173.94 L303.12,173.85 L303.91,173.62 L304.59,173.23 L305.16,172.67 L305.62,172.03 L306.07,171.19 L306.41,170.42 L306.75,169.54 L307.09,168.55 L307.43,167.47 L307.66,166.69 L307.89,165.89 L308.12,165.06 L308.34,164.20 L308.57,163.33 L308.80,162.44 L309.03,161.53 L309.25,160.62 L309.48,159.70 L309.71,158.78 L309.94,157.86 L310.16,156.94 L310.39,156.02 L310.62,155.11 L310.84,154.20 L311.07,153.31 L311.30,152.42 L311.53,151.54 L311.75,150.67 L311.98,149.81 L312.21,148.96 L312.44,148.12 L312.66,147.29 L312.89,146.48 L313.12,145.67 L313.35,144.88 L313.57,144.10 L313.80,143.33 L314.03,142.57 L314.25,141.82 L314.60,140.72 L314.94,139.64 L315.28,138.58 L315.62,137.55 L315.96,136.54 L316.30,135.55 L316.64,134.58 L316.98,133.64 L317.32,132.71 L317.66,131.80 L318.01,130.90 L318.35,130.03 L318.69,129.17 L319.03,128.33 L319.37,127.51 L319.71,126.70 L320.05,125.90 L320.39,125.12 L320.73,124.36 L321.07,123.60 L321.42,122.86 L321.76,122.13 L322.10,121.42 L322.44,120.72 L322.89,119.80 L323.35,118.89 L323.80,118.01 L324.26,117.15 L324.71,116.30 L325.17,115.47 L325.62,114.66 L326.08,113.86 L326.53,113.08 L326.99,112.31 L327.44,111.55 L327.89,110.81 L328.35,110.08 L328.80,109.37 L329.26,108.67 L329.71,107.97 L330.17,107.29 L330.62,106.62 L331.08,105.96 L331.53,105.31 L331.99,104.68 L332.44,104.05 L333.01,103.27 L333.58,102.51 L334.15,101.77 L334.71,101.04 L335.28,100.32 L335.85,99.61 L336.42,98.92 L336.99,98.23 L337.56,97.56 L338.12,96.90 L338.69,96.25 L339.26,95.61 L339.83,94.97 L340.40,94.35 L340.97,93.74 L341.53,93.14 L342.10,92.54 L342.67,91.95 L343.24,91.38 L343.81,90.81 L344.38,90.24 L344.94,89.69 L345.51,89.14 L346.08,88.60 L346.65,88.07 L347.22,87.54 L347.90,86.92 L348.58,86.31 L349.26,85.70 L349.95,85.11 L350.63,84.52 L351.31,83.94 L351.99,83.37 L352.67,82.80 L353.36,82.25 L354.04,81.70 L354.72,81.16 L355.40,80.63 L356.08,80.10 L356.77,79.58 L357.45,79.06 L358.13,78.56 L358.81,78.06 L359.49,77.56 L360.18,77.07 L360.86,76.59 L361.54,76.11 L362.22,75.64 L362.90,75.17 L363.59,74.71 L364.27,74.25 L364.95,73.80 L365.63,73.35 L366.31,72.91 L367.00,72.47 L367.68,72.04 L368.36,71.61 L369.04,71.19 L369.72,70.77 L370.41,70.35 L371.09,69.94 L371.77,69.53 L372.45,69.13 L373.13,68.73 L373.81,68.34 L374.50,67.95 L375.18,67.56 L375.86,67.17 L376.54,66.79 L377.22,66.42 L377.91,66.04 L378.59,65.67 L379.38,65.24 L380.18,64.82 L380.98,64.40 L381.77,63.99 L382.57,63.58 L383.36,63.17 L384.16,62.77 L384.95,62.37 L385.75,61.97 L386.55,61.58 L387.34,61.19 L388.14,60.81 L388.93,60.43 L389.73,60.05 L390.52,59.68 L391.32,59.31 L392.11,58.94 L392.91,58.58 L393.71,58.22 L394.50,57.86 L395.30,57.51 L396.09,57.16 L396.89,56.81 L397.68,56.47 L398.48,56.12 L399.28,55.78 L400.07,55.45 L400.87,55.11 L401.66,54.78 L402.46,54.45 L403.25,54.13 L404.05,53.80 L404.85,53.48 L405.64,53.17 L406.44,52.85 L407.23,52.54 L408.03,52.22 L408.82,51.92 L409.62,51.61 L410.41,51.31 L411.21,51.00 L412.01,50.70 L412.80,50.41 L413.60,50.11 L414.39,49.82 L415.19,49.53 L415.98,49.24 L416.78,48.95 L417.58,48.67 L418.37,48.38 L419.17,48.10 L419.96,47.82 L420.76,47.54 L421.55,47.27 L422.35,47.00 L423.15,46.72 L423.94,46.45 L424.74,46.19 L425.53,45.92 L426.33,45.66 L427.12,45.39 L427.92,45.13 L428.71,44.87 L429.51,44.61 L430.31,44.36 L431.10,44.10 L431.90,43.85 L432.69,43.60 L433.49,43.35 L434.28,43.10 L435.08,42.85 L435.88,42.61 L436.67,42.36 L437.47,42.12 L438.26,41.88 L439.06,41.64 L439.85,41.40 L440.65,41.17 L441.45,40.93 L442.24,40.70 L443.04,40.46 L443.83,40.23 L444.63,40.00 L445.42,39.78 L446.22,39.55 L447.01,39.32 L447.81,39.10 L448.61,38.87 L449.40,38.65 L450.20,38.43 L450.99,38.21 L451.79,37.99 L452.58,37.78 L453.38,37.56 L454.18,37.35 L454.97,37.13 L455.77,36.92 L456.56,36.71 L457.36,36.50 L458.15,36.29 L458.95,36.09 L459.75,35.88 L460.54,35.67 L461.34,35.47 L462.13,35.27 L462.93,35.07 L463.72,34.87 L464.52,34.67 L465.31,34.47 L466.11,34.27 L466.91,34.07 L467.70,33.88 L468.50,33.68 L469.29,33.49 L470.09,33.30 L470.88,33.11 L471.68,32.92 L472.48,32.73 L473.27,32.54 L474.07,32.36 L474.86,32.17 L475.66,31.99 L476.45,31.80 L477.25,31.62 L478.05,31.44 L478.84,31.26 L479.64,31.08 L480.43,30.90 L481.23,30.73 L482.02,30.55 L482.82,30.38 L483.61,30.20 L484.41,30.03 L485.21,29.86 L486.00,29.69 L486.80,29.52 L487.59,29.35 L488.39,29.18 L489.18,29.01 L489.98,28.85 L490.78,28.68 L491.57,28.52 L492.37,28.36 L493.16,28.20 L493.96,28.04 L494.75,27.88 L495.55,27.72 L496.35,27.56 L497.14,27.41 L497.94,27.25 L498.73,27.10 L499.53,26.94 L500.32,26.79 L501.12,26.64 L501.91,26.49 L502.71,26.34 L503.51,26.20 L504.30,26.05 L505.10,25.90 L505.89,25.76 L506.69,25.62 L507.48,25.48 L508.28,25.34 L509.08,25.20 L509.87,25.06 L510.67,24.92 L511.46,24.79 L512.26,24.65 L513.05,24.52 L513.85,24.38 L514.65,24.25 L515.44,24.12 L516.24,23.99 L517.03,23.87 L517.83,23.74 L518.62,23.61 L519.42,23.49 L520.21,23.37 L521.01,23.25 L521.81,23.13 L522.60,23.01 L523.40,22.89 L524.19,22.77 L524.99,22.66 L525.78,22.54 L526.58,22.43 L527.38,22.32 L528.17,22.21 L528.97,22.10 L529.76,21.99 L530.56,21.88 L531.35,21.78 L532.15,21.67 L532.95,21.57 L533.74,21.47 L534.54,21.37 L535.33,21.27 L536.13,21.17 L536.92,21.07 L537.61,20.99" stroke="#F9701E" stroke-linejoin="round"/>
<path d="M264.92,170.68 L265.72,170.71 L266.52,170.73 L267.31,170.74 L268.11,170.76 L268.90,170.77 L269.70,170.78 L270.49,170.79 L271.29,170.79 L272.09,170.80 L272.88,170.80 L273.68,170.80 L274.47,170.79 L275.27,170.79 L276.06,170.78 L276.86,170.77 L277.65,170.75 L278.45,170.74 L279.25,170.72 L280.04,170.70 L280.84,170.68 L281.63,170.65 L282.43,170.62 L283.22,170.59 L284.02,170.56 L284.82,170.52 L285.61,170.49 L286.41,170.45 L287.20,170.41 L288.00,170.36 L288.79,170.31 L289.59,170.26 L290.39,170.21 L291.18,170.16 L291.98,170.10 L292.77,170.04 L293.57,169.97 L294.36,169.88 L295.16,169.77 L295.95,169.58 L296.75,169.27 L297.43,168.80 L298.00,168.20 L298.46,167.51 L298.91,166.59 L299.25,165.74 L299.59,164.73 L299.82,163.98 L300.05,163.15 L300.27,162.27 L300.50,161.32 L300.73,160.31 L300.96,159.26 L301.18,158.17 L301.41,157.04 L301.64,155.88 L301.87,154.70 L302.09,153.51 L302.32,152.31 L302.55,151.10 L302.77,149.90 L303.00,148.69 L303.23,147.50 L303.46,146.32 L303.68,145.15 L303.91,144.00 L304.14,142.87 L304.37,141.75 L304.59,140.66 L304.82,139.58 L305.05,138.53 L305.28,137.49 L305.50,136.48 L305.73,135.48 L305.96,134.51 L306.18,133.56 L306.41,132.63 L306.64,131.72 L306.87,130.82 L307.09,129.95 L307.32,129.09 L307.55,128.26 L307.78,127.44 L308.00,126.63 L308.23,125.85 L308.46,125.08 L308.69,124.32 L309.03,123.22 L309.37,122.14 L309.71,121.10 L310.05,120.09 L310.39,119.10 L310.73,118.15 L311.07,117.21 L311.41,116.30 L311.75,115.42 L312.10,114.56 L312.44,113.71 L312.78,112.89 L313.12,112.09 L313.46,111.31 L313.80,110.54 L314.14,109.79 L314.48,109.06 L314.82,108.34 L315.16,107.64 L315.62,106.72 L316.07,105.83 L316.53,104.96 L316.98,104.12 L317.44,103.29 L317.89,102.49 L318.35,101.70 L318.80,100.93 L319.26,100.18 L319.71,99.45 L320.17,98.73 L320.62,98.03 L321.07,97.34 L321.53,96.67 L321.98,96.01 L322.44,95.36 L322.89,94.72 L323.46,93.94 L324.03,93.18 L324.60,92.44 L325.17,91.72 L325.73,91.00 L326.30,90.31 L326.87,89.63 L327.44,88.96 L328.01,88.30 L328.58,87.66 L329.14,87.03 L329.71,86.41 L330.28,85.81 L330.85,85.21 L331.42,84.63 L331.99,84.05 L332.55,83.49 L333.12,82.93 L333.69,82.38 L334.26,81.85 L334.83,81.32 L335.51,80.69 L336.19,80.08 L336.87,79.48 L337.56,78.89 L338.24,78.31 L338.92,77.74 L339.60,77.18 L340.28,76.63 L340.97,76.08 L341.65,75.55 L342.33,75.03 L343.01,74.51 L343.69,74.00 L344.38,73.50 L345.06,73.01 L345.74,72.52 L346.42,72.04 L347.10,71.57 L347.79,71.10 L348.47,70.64 L349.15,70.19 L349.83,69.74 L350.51,69.30 L351.20,68.87 L351.88,68.44 L352.56,68.01 L353.24,67.60 L353.92,67.18 L354.61,66.77 L355.29,66.37 L355.97,65.97 L356.65,65.58 L357.33,65.19 L358.02,64.81 L358.70,64.43 L359.38,64.05 L360.06,63.68 L360.74,63.31 L361.54,62.89 L362.33,62.47 L363.13,62.06 L363.93,61.65 L364.72,61.25 L365.52,60.85 L366.31,60.46 L367.11,60.07 L367.90,59.68 L368.70,59.30 L369.50,58.93 L370.29,58.56 L371.09,58.19 L371.88,57.83 L372.68,57.47 L373.47,57.11 L374.27,56.76 L375.07,56.41 L375.86,56.07 L376.66,55.73 L377.45,55.39 L378.25,55.06 L379.04,54.73 L379.84,54.40 L380.63,54.08 L381.43,53.76 L382.23,53.44 L383.02,53.12 L383.82,52.81 L384.61,52.50 L385.41,52.20 L386.20,51.89 L387.00,51.59 L387.80,51.30 L388.59,51.00 L389.39,50.71 L390.18,50.42 L390.98,50.13 L391.77,49.85 L392.57,49.56 L393.37,49.28 L394.16,49.01 L394.96,48.73 L395.75,48.46 L396.55,48.19 L397.34,47.92 L398.14,47.65 L398.93,47.39 L399.73,47.13 L400.53,46.87 L401.32,46.61 L402.12,46.35 L402.91,46.10 L403.71,45.85 L404.50,45.60 L405.30,45.35 L406.10,45.10 L406.89,44.86 L407.69,44.61 L408.48,44.37 L409.28,44.13 L410.07,43.89 L410.87,43.66 L411.67,43.42 L412.46,43.19 L413.26,42.96 L414.05,42.73 L414.85,42.50 L415.64,42.28 L416.44,42.05 L417.23,41.83 L418.03,41.61 L418.83,41.39 L419.62,41.17 L420.42,40.95 L421.21,40.73 L422.01,40.52 L422.80,40.31 L423.60,40.09 L424.40,39.88 L425.19,39.67 L425.99,39.47 L426.78,39.26 L427.58,39.05 L428.37,38.85 L429.17,38.65 L429.97,38.45 L430.76,38.25 L431.56,38.05 L432.35,37.85 L433.15,37.65 L433.94,37.46 L434.74,37.26 L435.53,37.07 L436.33,36.88 L437.13,36.69 L437.92,36.50 L438.72,36.31 L439.51,36.12 L440.31,35.93 L441.10,35.75 L441.90,35.56 L442.70,35.38 L443.49,35.20 L444.29,35.01 L445.08,34.83 L445.88,34.65 L446.67,34.48 L447.47,34.30 L448.27,34.12 L449.06,33.95 L449.86,33.77 L450.65,33.60 L451.45,33.42 L452.24,33.25 L453.04,33.08 L453.83,32.91 L454.63,32.74 L455.43,32.57 L456.22,32.41 L457.02,32.24 L457.81,32.08 L458.61,31.91 L459.40,31.75 L460.20,31.58 L461.00,31.42 L461.79,31.26 L462.59,31.10 L463.38,30.94 L464.18,30.78 L464.97,30.63 L465.77,30.47 L466.57,30.32 L467.36,30.16 L468.16,30.01 L468.95,29.86 L469.75,29.70 L470.54,29.55 L471.34,29.40 L472.13,29.25 L472.93,29.11 L473.73,28.96 L474.52,28.81 L475.32,28.67 L476.11,28.53 L476.91,28.38 L477.70,28.24 L478.50,28.10 L479.30,27.96 L480.09,27.82 L480.89,27.68 L481.68,27.55 L482.48,27.41 L483.27,27.28 L484.07,27.15 L484.87,27.02 L485.66,26.89 L486.46,26.76 L487.25,26.63 L488.05,26.50 L488.84,26.38 L489.64,26.26 L490.43,26.13 L491.23,26.01 L492.03,25.89 L492.82,25.78 L493.62,25.66 L494.41,25.54 L495.21,25.43 L496.00,25.32 L496.80,25.21 L497.60,25.10 L498.39,24.99 L499.19,24.89 L499.98,24.78 L500.78,24.68 L501.57,24.58 L502.37,24.48 L503.17,24.38 L503.96,24.28 L504.76,24.19 L505.55,24.09 L506.35,24.00 L507.14,23.91 L507.94,23.82 L508.73,23.73 L509.53,23.64 L510.33,23.55 L511.12,23.46 L511.92,23.38 L512.71,23.29 L513.51,23.20 L514.30,23.12 L515.10,23.03 L515.90,22.95 L516.69,22.86 L517.49,22.78 L518.28,22.69 L519.08,22.61 L519.87,22.52 L520.67,22.43 L521.47,22.34 L522.26,22.25 L523.06,22.16 L523.85,22.06 L524.65,21.97 L525.44,21.87 L526.24,21.76 L527.03,21.66 L527.83,21.55 L528.63,21.44 L529.42,21.32 L530.22,21.20 L531.01,21.08 L531.81,20.95 L532.60,20.81 L533.40,20.67 L534.20,20.53 L534.99,20.38 L535.79,20.22 L536.58,20.05 L537.38,19.87 L537.61,19.82" stroke="#2E52EE" stroke-linejoin="round"/>
<path d="M264.92,158.20 L265.72,158.13 L266.52,158.06 L267.31,157.99 L268.11,157.92 L268.90,157.85 L269.70,157.77 L270.49,157.69 L271.29,157.60 L272.09,157.51 L272.88,157.42 L273.68,157.31 L274.47,157.20 L275.27,157.08 L276.06,156.94 L276.86,156.78 L277.65,156.61 L278.45,156.40 L279.25,156.17 L280.04,155.90 L280.84,155.58 L281.63,155.21 L282.43,154.78 L283.11,154.35 L283.79,153.87 L284.47,153.31 L285.16,152.69 L285.73,152.11 L286.29,151.48 L286.86,150.79 L287.43,150.04 L287.88,149.39 L288.34,148.71 L288.79,148.00 L289.25,147.24 L289.70,146.45 L290.16,145.63 L290.61,144.77 L291.07,143.89 L291.52,142.97 L291.86,142.27 L292.20,141.56 L292.54,140.83 L292.89,140.09 L293.23,139.34 L293.57,138.58 L293.91,137.81 L294.25,137.04 L294.59,136.26 L294.93,135.47 L295.27,134.68 L295.61,133.89 L295.95,133.09 L296.30,132.29 L296.64,131.49 L296.98,130.69 L297.32,129.89 L297.66,129.09 L298.00,128.29 L298.34,127.50 L298.68,126.70 L299.02,125.91 L299.36,125.13 L299.71,124.34 L300.05,123.56 L300.39,122.79 L300.73,122.02 L301.07,121.25 L301.41,120.49 L301.75,119.74 L302.09,118.99 L302.43,118.25 L302.77,117.51 L303.12,116.78 L303.46,116.06 L303.80,115.34 L304.14,114.63 L304.48,113.92 L304.82,113.23 L305.28,112.31 L305.73,111.40 L306.18,110.50 L306.64,109.62 L307.09,108.75 L307.55,107.89 L308.00,107.05 L308.46,106.21 L308.91,105.39 L309.37,104.58 L309.82,103.78 L310.28,103.00 L310.73,102.22 L311.19,101.46 L311.64,100.70 L312.10,99.96 L312.55,99.23 L313.00,98.51 L313.46,97.80 L313.91,97.10 L314.37,96.42 L314.82,95.74 L315.28,95.07 L315.73,94.41 L316.19,93.76 L316.64,93.12 L317.10,92.49 L317.66,91.71 L318.23,90.95 L318.80,90.20 L319.37,89.47 L319.94,88.75 L320.51,88.03 L321.07,87.34 L321.64,86.65 L322.21,85.97 L322.78,85.31 L323.35,84.66 L323.92,84.02 L324.48,83.38 L325.05,82.76 L325.62,82.15 L326.19,81.55 L326.76,80.95 L327.33,80.37 L327.89,79.79 L328.46,79.23 L329.03,78.67 L329.60,78.12 L330.17,77.58 L330.74,77.04 L331.30,76.52 L331.99,75.90 L332.67,75.28 L333.35,74.68 L334.03,74.09 L334.71,73.51 L335.40,72.94 L336.08,72.37 L336.76,71.82 L337.44,71.27 L338.12,70.73 L338.81,70.20 L339.49,69.68 L340.17,69.16 L340.85,68.65 L341.53,68.15 L342.22,67.66 L342.90,67.17 L343.58,66.69 L344.26,66.22 L344.94,65.75 L345.63,65.29 L346.31,64.83 L346.99,64.38 L347.67,63.94 L348.35,63.50 L349.04,63.07 L349.72,62.64 L350.40,62.22 L351.08,61.80 L351.76,61.39 L352.45,60.98 L353.13,60.58 L353.81,60.18 L354.49,59.79 L355.17,59.40 L355.86,59.01 L356.54,58.63 L357.22,58.26 L357.90,57.89 L358.58,57.52 L359.38,57.09 L360.18,56.67 L360.97,56.26 L361.77,55.85 L362.56,55.44 L363.36,55.04 L364.15,54.65 L364.95,54.26 L365.74,53.87 L366.54,53.49 L367.34,53.11 L368.13,52.74 L368.93,52.37 L369.72,52.00 L370.52,51.64 L371.31,51.28 L372.11,50.93 L372.91,50.58 L373.70,50.23 L374.50,49.89 L375.29,49.55 L376.09,49.21 L376.88,48.88 L377.68,48.55 L378.48,48.22 L379.27,47.90 L380.07,47.57 L380.86,47.26 L381.66,46.94 L382.45,46.63 L383.25,46.32 L384.04,46.01 L384.84,45.71 L385.64,45.41 L386.43,45.11 L387.23,44.82 L388.02,44.52 L388.82,44.23 L389.61,43.95 L390.41,43.66 L391.21,43.38 L392.00,43.10 L392.80,42.82 L393.59,42.54 L394.39,42.27 L395.18,42.00 L395.98,41.73 L396.78,41.46 L397.57,41.20 L398.37,40.93 L399.16,40.67 L399.96,40.41 L400.75,40.16 L401.55,39.90 L402.34,39.65 L403.14,39.40 L403.94,39.15 L404.73,38.90 L405.53,38.66 L406.32,38.42 L407.12,38.17 L407.91,37.93 L408.71,37.70 L409.51,37.46 L410.30,37.23 L411.10,36.99 L411.89,36.76 L412.69,36.53 L413.48,36.30 L414.28,36.08 L415.08,35.85 L415.87,35.63 L416.67,35.41 L417.46,35.19 L418.26,34.97 L419.05,34.75 L419.85,34.54 L420.64,34.32 L421.44,34.11 L422.24,33.90 L423.03,33.69 L423.83,33.48 L424.62,33.27 L425.42,33.07 L426.21,32.86 L427.01,32.66 L427.81,32.46 L428.60,32.25 L429.40,32.06 L430.19,31.86 L430.99,31.66 L431.78,31.46 L432.58,31.27 L433.38,31.08 L434.17,30.88 L434.97,30.69 L435.76,30.50 L436.56,30.32 L437.35,30.13 L438.15,29.94 L438.94,29.76 L439.74,29.57 L440.54,29.39 L441.33,29.21 L442.13,29.03 L442.92,28.85 L443.72,28.67 L444.51,28.49 L445.31,28.32 L446.11,28.14 L446.90,27.97 L447.70,27.79 L448.49,27.62 L449.29,27.45 L450.08,27.28 L450.88,27.11 L451.68,26.94 L452.47,26.77 L453.27,26.60 L454.06,26.44 L454.86,26.27 L455.65,26.11 L456.45,25.95 L457.24,25.79 L458.04,25.62 L458.84,25.46 L459.63,25.30 L460.43,25.15 L461.22,24.99 L462.02,24.83 L462.81,24.67 L463.61,24.52 L464.41,24.37 L465.20,24.21 L466.00,24.06 L466.79,23.91 L467.59,23.76 L468.38,23.61 L469.18,23.46 L469.98,23.31 L470.77,23.16 L471.57,23.01 L472.36,22.87 L473.16,22.72 L473.95,22.58 L474.75,22.43 L475.54,22.29 L476.34,22.15 L477.14,22.00 L477.93,21.86 L478.73,21.72 L479.52,21.58 L480.32,21.44 L481.11,21.31 L481.91,21.17 L482.71,21.03 L483.50,20.90 L484.30,20.76 L485.09,20.62 L485.89,20.49 L486.68,20.36 L487.48,20.22 L488.28,20.09 L489.07,19.96 L489.87,19.83 L490.66,19.70 L491.46,19.57 L492.25,19.44 L493.05,19.31 L493.84,19.19 L494.64,19.06 L495.44,18.93 L496.23,18.81 L497.03,18.68 L497.82,18.56 L498.62,18.43 L499.41,18.31 L500.21,18.19 L501.01,18.06 L501.80,17.94 L502.60,17.82 L503.39,17.70 L504.19,17.58 L504.98,17.46 L505.78,17.34 L506.57,17.23 L507.37,17.11 L508.17,16.99 L508.96,16.87 L509.76,16.76 L510.55,16.64 L511.35,16.53 L512.14,16.41 L512.94,16.30 L513.74,16.19 L514.53,16.07 L515.33,15.96 L516.12,15.85 L516.92,15.74 L517.71,15.63 L518.51,15.52 L519.31,15.41 L520.10,15.30 L520.90,15.19 L521.69,15.08 L522.49,14.98 L523.28,14.87 L524.08,14.76 L524.87,14.66 L525.67,14.55 L526.47,14.44 L527.26,14.34 L528.06,14.24 L528.85,14.13 L529.65,14.03 L530.44,13.93 L531.24,13.82 L532.04,13.72 L532.83,13.62 L533.63,13.52 L534.42,13.42 L535.22,13.32 L536.01,13.22 L536.81,13.12 L537.61,13.02 L537.61,13.02" stroke="#EE2A2A" stroke-linejoin="round"/>
</g>
<text x="401" y="110.9" font-size="15" fill="#111" stroke="#111" stroke-width="0.38">V<tspan font-size="11" dy="4">D</tspan><tspan dy="-4">= 100V</tspan></text>
<line x1="401" y1="129.0" x2="433.5" y2="129.0" stroke="#111" stroke-width="1.1"/>
<text x="438.1" y="134.3" font-size="15" fill="#111" stroke="#111" stroke-width="0.38">ZnO</text>
<line x1="401" y1="147.0" x2="433.5" y2="147.0" stroke="#26A826" stroke-width="1.1"/>
<text x="438.4" y="152.8" font-size="15" fill="#111" stroke="#111" stroke-width="0.38">In<tspan font-size="9.6" dy="5.6">2</tspan><tspan dy="-5.6">O</tspan><tspan font-size="9.6" dy="5.6">3</tspan></text>
<line x1="401" y1="171.0" x2="433.5" y2="171.0" stroke="#BE42F2" stroke-width="1.1"/>
<text x="438.1" y="176.3" font-size="15" fill="#111" stroke="#111" stroke-width="0.38">Heterojunction</text>
<line x1="401" y1="189.0" x2="433.5" y2="189.0" stroke="#2E52EE" stroke-width="1.1"/>
<text x="438.1" y="194.3" font-size="15" fill="#111" stroke="#111" stroke-width="0.38">QSL-I</text>
<line x1="401" y1="207.5" x2="433.5" y2="207.5" stroke="#F9701E" stroke-width="1.1"/>
<text x="438.1" y="212.8" font-size="15" fill="#111" stroke="#111" stroke-width="0.38">QSL-II</text>
<line x1="401" y1="226.0" x2="433.5" y2="226.0" stroke="#EE2A2A" stroke-width="1.1"/>
<text x="438.1" y="231.3" font-size="15" fill="#111" stroke="#111" stroke-width="0.38">QSL-III</text>
<rect x="265.6" y="299.1" width="271.29999999999995" height="227.60000000000002" fill="none" stroke="#555" stroke-width="1.1"/>
<line x1="259.1" y1="527.2" x2="265.6" y2="527.2" stroke="#555" stroke-width="1.1"/>
<text x="257.3" y="532.1" font-size="16" fill="#111" text-anchor="end" stroke="#111" stroke-width="0.38">1</text>
<line x1="261.8" y1="484.3032256178827" x2="265.6" y2="484.3032256178827" stroke="#555" stroke-width="1.1"/>
<text x="257.3" y="489.20322561788265" font-size="16" fill="#111" text-anchor="end" stroke="#111" stroke-width="0.38">2</text>
<line x1="261.8" y1="441.40645123576536" x2="265.6" y2="441.40645123576536" stroke="#555" stroke-width="1.1"/>
<text x="257.3" y="446.30645123576534" font-size="16" fill="#111" text-anchor="end" stroke="#111" stroke-width="0.38">4</text>
<line x1="261.8" y1="416.3134468203308" x2="265.6" y2="416.3134468203308" stroke="#555" stroke-width="1.1"/>
<text x="257.3" y="421.2134468203308" font-size="16" fill="#111" text-anchor="end" stroke="#111" stroke-width="0.38">6</text>
<line x1="261.8" y1="398.50967685364805" x2="265.6" y2="398.50967685364805" stroke="#555" stroke-width="1.1"/>
<text x="257.3" y="403.409676853648" font-size="16" fill="#111" text-anchor="end" stroke="#111" stroke-width="0.38">8</text>
<line x1="259.1" y1="384.7" x2="265.6" y2="384.7" stroke="#555" stroke-width="1.1"/>
<text x="257.3" y="389.59999999999997" font-size="16" fill="#111" text-anchor="end" stroke="#111" stroke-width="0.38">10</text>
<line x1="261.8" y1="341.8032256178827" x2="265.6" y2="341.8032256178827" stroke="#555" stroke-width="1.1"/>
<text x="257.3" y="346.70322561788265" font-size="16" fill="#111" text-anchor="end" stroke="#111" stroke-width="0.38">20</text>
<line x1="261.8" y1="298.90645123576536" x2="265.6" y2="298.90645123576536" stroke="#555" stroke-width="1.1"/>
<text x="257.3" y="303.80645123576534" font-size="16" fill="#111" text-anchor="end" stroke="#111" stroke-width="0.38">40</text>
<line x1="291.6" y1="526.7" x2="291.6" y2="532.2" stroke="#555" stroke-width="1.1"/>
<text x="291.6" y="550.0" font-size="16" fill="#111" text-anchor="middle" stroke="#111" stroke-width="0.38">4</text>
<line x1="343.86" y1="526.7" x2="343.86" y2="532.2" stroke="#555" stroke-width="1.1"/>
<text x="343.86" y="550.0" font-size="16" fill="#111" text-anchor="middle" stroke="#111" stroke-width="0.38">6</text>
<line x1="396.12" y1="526.7" x2="396.12" y2="532.2" stroke="#555" stroke-width="1.1"/>
<text x="396.12" y="550.0" font-size="16" fill="#111" text-anchor="middle" stroke="#111" stroke-width="0.38">8</text>
<line x1="448.38" y1="526.7" x2="448.38" y2="532.2" stroke="#555" stroke-width="1.1"/>
<text x="448.38" y="550.0" font-size="16" fill="#111" text-anchor="middle" stroke="#111" stroke-width="0.38">10</text>
<line x1="500.64" y1="526.7" x2="500.64" y2="532.2" stroke="#555" stroke-width="1.1"/>
<text x="500.64" y="550.0" font-size="16" fill="#111" text-anchor="middle" stroke="#111" stroke-width="0.38">12</text>
<text x="355.8" y="569.1" font-size="15.6" fill="#111" stroke="#111" stroke-width="0.38">1000/T (K<tspan font-size="10" dy="-7.5">-1</tspan><tspan dy="7.5">)</tspan></text>
<text transform="translate(231.2,451.3) rotate(-90)" font-size="15.2" fill="#111" stroke="#111" stroke-width="0.38">μ<tspan font-size="12.5" dy="4.2">SAT</tspan><tspan dy="-4.2"> (cm</tspan><tspan font-size="10" dy="-7">2</tspan><tspan dy="7">/Vs)</tspan></text>
<defs><clipPath id="cc"><rect x="265.6" y="299.1" width="271.29999999999995" height="227.60000000000002"/></clipPath></defs>
<g clip-path="url(#cc)" fill="none" stroke-width="1.3">
<path d="M266,320.5 L400,323.5 L527,326.2" stroke="#EE2A2A"/>
<path d="M266,369 L300,366 L400,363 L527,356" stroke="#2E52EE"/>
<path d="M267,369 L285,375 L299.6,382.3 L527,382" stroke="#F9701E"/>
<path d="M266,438.3 L284,440.5 L299,454.8 L400,452.9 L527,451" stroke="#BE42F2"/>
<path d="M266.00,442.30 C270.67,445.87 274.99,448.90 280.00,453.00 C286.15,458.03 292.18,465.78 300.00,470.50 C308.60,475.68 318.16,479.08 330.00,482.00 C345.92,485.92 364.25,486.90 387.70,488.80 C424.02,491.74 480.57,492.93 527.00,495.00" stroke="#26A826"/>
<path d="M267.00,457.00 C271.33,460.00 275.14,462.87 280.00,466.00 C285.90,469.80 292.45,474.53 300.00,478.00 C308.80,482.05 318.21,485.51 330.00,488.00 C345.96,491.37 364.29,491.35 387.70,493.50 C424.06,496.84 480.57,501.70 527.00,505.80" stroke="#111"/>
<rect x="269.2" y="317.6" width="6.6" height="6.6" stroke="#EE2A2A"/>
<rect x="274.5" y="317.6" width="6.6" height="6.6" stroke="#EE2A2A"/>
<rect x="279.3" y="317.1" width="6.6" height="6.6" stroke="#EE2A2A"/>
<rect x="285.0" y="315.6" width="6.6" height="6.6" stroke="#EE2A2A"/>
<rect x="290.59999999999997" y="313.6" width="6.6" height="6.6" stroke="#EE2A2A"/>
<rect x="297.3" y="322.1" width="6.6" height="6.6" stroke="#EE2A2A"/>
<rect x="305.59999999999997" y="317.6" width="6.6" height="6.6" stroke="#EE2A2A"/>
<rect x="314.2" y="318.8" width="6.6" height="6.6" stroke="#EE2A2A"/>
<rect x="321.4" y="317.6" width="6.6" height="6.6" stroke="#EE2A2A"/>
<rect x="329.09999999999997" y="322.6" width="6.6" height="6.6" stroke="#EE2A2A"/>
<rect x="337.7" y="322.6" width="6.6" height="6.6" stroke="#EE2A2A"/>
<rect x="346.5" y="322.6" width="6.6" height="6.6" stroke="#EE2A2A"/>
<rect x="357.8" y="320.8" width="6.6" height="6.6" stroke="#EE2A2A"/>
<rect x="370.3" y="320.3" width="6.6" height="6.6" stroke="#EE2A2A"/>
<rect x="384.2" y="321.6" width="6.6" height="6.6" stroke="#EE2A2A"/>
<rect x="401.4" y="320.1" width="6.6" height="6.6" stroke="#EE2A2A"/>
<rect x="420.9" y="321.0" width="6.6" height="6.6" stroke="#EE2A2A"/>
<rect x="444.7" y="326.6" width="6.6" height="6.6" stroke="#EE2A2A"/>
<rect x="473.5" y="320.1" width="6.6" height="6.6" stroke="#EE2A2A"/>
<rect x="522.9000000000001" y="317.9" width="6.6" height="6.6" stroke="#EE2A2A"/>
<path d="M272.5,365.2 L277.5,370.2 L272.5,375.2 L267.5,370.2 Z" stroke="#F9701E"/>
<path d="M277.8,367.8 L282.8,372.8 L277.8,377.8 L272.8,372.8 Z" stroke="#F9701E"/>
<path d="M282.6,369.8 L287.6,374.8 L282.6,379.8 L277.6,374.8 Z" stroke="#F9701E"/>
<path d="M288.3,372.3 L293.3,377.3 L288.3,382.3 L283.3,377.3 Z" stroke="#F9701E"/>
<path d="M293.9,374.8 L298.9,379.8 L293.9,384.8 L288.9,379.8 Z" stroke="#F9701E"/>
<path d="M300.6,378.5 L305.6,383.5 L300.6,388.5 L295.6,383.5 Z" stroke="#F9701E"/>
<path d="M308.9,377.3 L313.9,382.3 L308.9,387.3 L303.9,382.3 Z" stroke="#F9701E"/>
<path d="M317.5,378.5 L322.5,383.5 L317.5,388.5 L312.5,383.5 Z" stroke="#F9701E"/>
<path d="M324.7,378.5 L329.7,383.5 L324.7,388.5 L319.7,383.5 Z" stroke="#F9701E"/>
<path d="M332.4,377.8 L337.4,382.8 L332.4,387.8 L327.4,382.8 Z" stroke="#F9701E"/>
<path d="M341,379.0 L346.0,384 L341,389.0 L336.0,384 Z" stroke="#F9701E"/>
<path d="M349.8,377.8 L354.8,382.8 L349.8,387.8 L344.8,382.8 Z" stroke="#F9701E"/>
<path d="M361.1,378.5 L366.1,383.5 L361.1,388.5 L356.1,383.5 Z" stroke="#F9701E"/>
<path d="M373.6,375.3 L378.6,380.3 L373.6,385.3 L368.6,380.3 Z" stroke="#F9701E"/>
<path d="M387.5,378.5 L392.5,383.5 L387.5,388.5 L382.5,383.5 Z" stroke="#F9701E"/>
<path d="M404.7,377.7 L409.7,382.7 L404.7,387.7 L399.7,382.7 Z" stroke="#F9701E"/>
<path d="M424.2,375.6 L429.2,380.6 L424.2,385.6 L419.2,380.6 Z" stroke="#F9701E"/>
<path d="M448,376.8 L453.0,381.8 L448,386.8 L443.0,381.8 Z" stroke="#F9701E"/>
<path d="M476.8,376.8 L481.8,381.8 L476.8,386.8 L471.8,381.8 Z" stroke="#F9701E"/>
<path d="M526.2,376.8 L531.2,381.8 L526.2,386.8 L521.2,381.8 Z" stroke="#F9701E"/>
<circle cx="272.5" cy="369" r="4.0" stroke="#2E52EE"/>
<circle cx="277.8" cy="365.7" r="4.0" stroke="#2E52EE"/>
<circle cx="282.6" cy="362.2" r="4.0" stroke="#2E52EE"/>
<circle cx="288.3" cy="367.2" r="4.0" stroke="#2E52EE"/>
<circle cx="293.9" cy="364" r="4.0" stroke="#2E52EE"/>
<circle cx="300.6" cy="367.7" r="4.0" stroke="#2E52EE"/>
<circle cx="308.9" cy="367.2" r="4.0" stroke="#2E52EE"/>
<circle cx="317.5" cy="369.7" r="4.0" stroke="#2E52EE"/>
<circle cx="324.7" cy="367.7" r="4.0" stroke="#2E52EE"/>
<circle cx="332.4" cy="366.5" r="4.0" stroke="#2E52EE"/>
<circle cx="341" cy="367.2" r="4.0" stroke="#2E52EE"/>
<circle cx="349.8" cy="366" r="4.0" stroke="#2E52EE"/>
<circle cx="361.1" cy="361" r="4.0" stroke="#2E52EE"/>
<circle cx="373.6" cy="367.2" r="4.0" stroke="#2E52EE"/>
<circle cx="387.5" cy="360.2" r="4.0" stroke="#2E52EE"/>
<circle cx="404.7" cy="361.7" r="4.0" stroke="#2E52EE"/>
<circle cx="424.2" cy="361.7" r="4.0" stroke="#2E52EE"/>
<circle cx="448" cy="365.1" r="4.0" stroke="#2E52EE"/>
<circle cx="476.8" cy="360.2" r="4.0" stroke="#2E52EE"/>
<circle cx="526.2" cy="354.9" r="4.0" stroke="#2E52EE"/>
<path d="M272.5,431.5 L276.6,438.70000000000005 L268.4,438.70000000000005 Z" stroke="#BE42F2" stroke-linejoin="miter"/>
<path d="M277.8,433.0 L281.90000000000003,440.20000000000005 L273.7,440.20000000000005 Z" stroke="#BE42F2" stroke-linejoin="miter"/>
<path d="M282.6,435.5 L286.70000000000005,442.70000000000005 L278.5,442.70000000000005 Z" stroke="#BE42F2" stroke-linejoin="miter"/>
<path d="M288.3,439.7 L292.40000000000003,446.90000000000003 L284.2,446.90000000000003 Z" stroke="#BE42F2" stroke-linejoin="miter"/>
<path d="M293.9,448.5 L298.0,455.70000000000005 L289.79999999999995,455.70000000000005 Z" stroke="#BE42F2" stroke-linejoin="miter"/>
<path d="M300.6,451.0 L304.70000000000005,458.20000000000005 L296.5,458.20000000000005 Z" stroke="#BE42F2" stroke-linejoin="miter"/>
<path d="M308.9,449.0 L313.0,456.20000000000005 L304.79999999999995,456.20000000000005 Z" stroke="#BE42F2" stroke-linejoin="miter"/>
<path d="M317.5,448.5 L321.6,455.70000000000005 L313.4,455.70000000000005 Z" stroke="#BE42F2" stroke-linejoin="miter"/>
<path d="M324.7,449.79999999999995 L328.8,457.0 L320.59999999999997,457.0 Z" stroke="#BE42F2" stroke-linejoin="miter"/>
<path d="M332.4,446.5 L336.5,453.70000000000005 L328.29999999999995,453.70000000000005 Z" stroke="#BE42F2" stroke-linejoin="miter"/>
<path d="M341,445.5 L345.1,452.70000000000005 L336.9,452.70000000000005 Z" stroke="#BE42F2" stroke-linejoin="miter"/>
<path d="M349.8,444.79999999999995 L353.90000000000003,452.0 L345.7,452.0 Z" stroke="#BE42F2" stroke-linejoin="miter"/>
<path d="M361.1,447.29999999999995 L365.20000000000005,454.5 L357.0,454.5 Z" stroke="#BE42F2" stroke-linejoin="miter"/>
<path d="M373.6,448.5 L377.70000000000005,455.70000000000005 L369.5,455.70000000000005 Z" stroke="#BE42F2" stroke-linejoin="miter"/>
<path d="M387.5,449.79999999999995 L391.6,457.0 L383.4,457.0 Z" stroke="#BE42F2" stroke-linejoin="miter"/>
<path d="M404.7,448.59999999999997 L408.8,455.8 L400.59999999999997,455.8 Z" stroke="#BE42F2" stroke-linejoin="miter"/>
<path d="M424.2,446.09999999999997 L428.3,453.3 L420.09999999999997,453.3 Z" stroke="#BE42F2" stroke-linejoin="miter"/>
<path d="M448,445.2 L452.1,452.40000000000003 L443.9,452.40000000000003 Z" stroke="#BE42F2" stroke-linejoin="miter"/>
<path d="M476.8,446.09999999999997 L480.90000000000003,453.3 L472.7,453.3 Z" stroke="#BE42F2" stroke-linejoin="miter"/>
<path d="M526.2,445.5 L530.3000000000001,452.70000000000005 L522.1,452.70000000000005 Z" stroke="#BE42F2" stroke-linejoin="miter"/>
<path d="M268.4,456.4 L275.6,452.29999999999995 L275.6,460.5 Z" stroke="#111"/>
<path d="M273.7,460.1 L280.90000000000003,456.0 L280.90000000000003,464.20000000000005 Z" stroke="#111"/>
<path d="M278.5,468.9 L285.70000000000005,464.79999999999995 L285.70000000000005,473.0 Z" stroke="#111"/>
<path d="M284.2,471.4 L291.40000000000003,467.29999999999995 L291.40000000000003,475.5 Z" stroke="#111"/>
<path d="M289.79999999999995,479 L297.0,474.9 L297.0,483.1 Z" stroke="#111"/>
<path d="M296.5,480.2 L303.70000000000005,476.09999999999997 L303.70000000000005,484.3 Z" stroke="#111"/>
<path d="M304.79999999999995,484.7 L312.0,480.59999999999997 L312.0,488.8 Z" stroke="#111"/>
<path d="M313.4,485.7 L320.6,481.59999999999997 L320.6,489.8 Z" stroke="#111"/>
<path d="M320.59999999999997,487.2 L327.8,483.09999999999997 L327.8,491.3 Z" stroke="#111"/>
<path d="M328.29999999999995,491 L335.5,486.9 L335.5,495.1 Z" stroke="#111"/>
<path d="M336.9,492.3 L344.1,488.2 L344.1,496.40000000000003 Z" stroke="#111"/>
<path d="M345.7,492.8 L352.90000000000003,488.7 L352.90000000000003,496.90000000000003 Z" stroke="#111"/>
<path d="M357.0,494 L364.20000000000005,489.9 L364.20000000000005,498.1 Z" stroke="#111"/>
<path d="M369.5,494.8 L376.70000000000005,490.7 L376.70000000000005,498.90000000000003 Z" stroke="#111"/>
<path d="M383.4,495.8 L390.6,491.7 L390.6,499.90000000000003 Z" stroke="#111"/>
<path d="M400.59999999999997,498.1 L407.8,494.0 L407.8,502.20000000000005 Z" stroke="#111"/>
<path d="M420.09999999999997,499.6 L427.3,495.5 L427.3,503.70000000000005 Z" stroke="#111"/>
<path d="M443.9,501.2 L451.1,497.09999999999997 L451.1,505.3 Z" stroke="#111"/>
<path d="M472.7,501.2 L479.90000000000003,497.09999999999997 L479.90000000000003,505.3 Z" stroke="#111"/>
<path d="M522.1,502.7 L529.3000000000001,498.59999999999997 L529.3000000000001,506.8 Z" stroke="#111"/>
<path d="M272.5,450.40000000000003 L276.6,443.2 L268.4,443.2 Z" stroke="#26A826"/>
<path d="M277.8,455.70000000000005 L281.90000000000003,448.5 L273.7,448.5 Z" stroke="#26A826"/>
<path d="M282.6,459.20000000000005 L286.70000000000005,452.0 L278.5,452.0 Z" stroke="#26A826"/>
<path d="M288.3,465.5 L292.40000000000003,458.29999999999995 L284.2,458.29999999999995 Z" stroke="#26A826"/>
<path d="M293.9,470.5 L298.0,463.29999999999995 L289.79999999999995,463.29999999999995 Z" stroke="#26A826"/>
<path d="M300.6,476.8 L304.70000000000005,469.59999999999997 L296.5,469.59999999999997 Z" stroke="#26A826"/>
<path d="M308.9,480.5 L313.0,473.29999999999995 L304.79999999999995,473.29999999999995 Z" stroke="#26A826"/>
<path d="M317.5,484.3 L321.6,477.09999999999997 L313.4,477.09999999999997 Z" stroke="#26A826"/>
<path d="M324.7,486.3 L328.8,479.09999999999997 L320.59999999999997,479.09999999999997 Z" stroke="#26A826"/>
<path d="M332.4,488.8 L336.5,481.59999999999997 L328.29999999999995,481.59999999999997 Z" stroke="#26A826"/>
<path d="M341,489.8 L345.1,482.59999999999997 L336.9,482.59999999999997 Z" stroke="#26A826"/>
<path d="M349.8,490.6 L353.90000000000003,483.4 L345.7,483.4 Z" stroke="#26A826"/>
<path d="M361.1,491.8 L365.20000000000005,484.59999999999997 L357.0,484.59999999999997 Z" stroke="#26A826"/>
<path d="M373.6,492.6 L377.70000000000005,485.4 L369.5,485.4 Z" stroke="#26A826"/>
<path d="M387.5,493.8 L391.6,486.59999999999997 L383.4,486.59999999999997 Z" stroke="#26A826"/>
<path d="M404.7,495.1 L408.8,487.9 L400.59999999999997,487.9 Z" stroke="#26A826"/>
<path d="M424.2,495.1 L428.3,487.9 L420.09999999999997,487.9 Z" stroke="#26A826"/>
<path d="M448,496.0 L452.1,488.79999999999995 L443.9,488.79999999999995 Z" stroke="#26A826"/>
<path d="M476.8,496.90000000000003 L480.90000000000003,489.7 L472.7,489.7 Z" stroke="#26A826"/>
<path d="M526.2,498.1 L530.3000000000001,490.9 L522.1,490.9 Z" stroke="#26A826"/>
</g>
<text x="530.5" y="315.3" font-size="15.8" fill="#EE2A2A" text-anchor="end" stroke="#EE2A2A" stroke-width="0.38">QSL-III</text>
<text x="530.5" y="347.2" font-size="15.8" fill="#2E52EE" text-anchor="end" stroke="#2E52EE" stroke-width="0.38">QSL-I</text>
<text x="530.5" y="402.8" font-size="15.8" fill="#F9701E" text-anchor="end" stroke="#F9701E" stroke-width="0.38">QSL-II</text>
<text x="530" y="438.4" font-size="15.8" fill="#BE42F2" text-anchor="end" stroke="#BE42F2" stroke-width="0.38">Heterojunction</text>
<text x="531.8" y="481.9" font-size="15.8" fill="#26A826" text-anchor="end" stroke="#26A826" stroke-width="0.38">In<tspan font-size="10" dy="6.4">2</tspan><tspan dy="-6.4">O</tspan><tspan font-size="10" dy="6.4">3</tspan></text>
<text x="530.9" y="521.3" font-size="15.8" fill="#111" text-anchor="end" stroke="#111" stroke-width="0.38">ZnO</text>
</svg></body></html>
